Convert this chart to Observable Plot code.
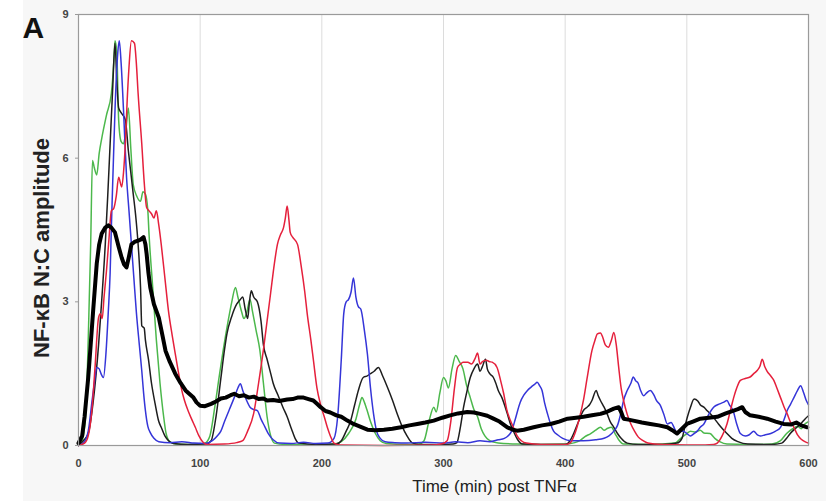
<!DOCTYPE html>
<html>
<head>
<meta charset="utf-8">
<script src="https://cdn.jsdelivr.net/npm/d3@7"></script>
<script src="https://cdn.jsdelivr.net/npm/@observablehq/plot@0.6"></script>
<style>
  html, body { margin: 0; padding: 0; }
  body { background: linear-gradient(to right, #ffffff 23px, #f7f7f7 23px); width: 826px; height: 501px; overflow: hidden; }
</style>
</head>
<body>
<div id="chart"></div>
<script>
// Single-cell NF-κB nuclear:cytoplasmic ratio after TNFα, [minutes, amplitude]
const cellGreen = [[0,0],[3,0.1],[6,0.7],[8,2.2],[10,4.2],[11.5,5.95],[13,5.8],[15,5.65],[17,6.1],[19,6.4],[23,6.9],[27,7.35],[29,8.0],[30,8.45],[31.5,8.2],[33,6.8],[35,6.35],[37,6.3],[39,6.6],[41,7.05],[43,6.2],[45,5.45],[48,5.2],[51,5.1],[53,5.3],[55,5.25],[57,4.9],[58,4.4],[61,3.3],[64,2.2],[67,1.3],[70,0.6],[72,0.25],[75,0.08],[80,0.03],[90,0.02],[100,0.03],[104,0.05],[108,0.2],[112,0.8],[116,1.5],[119,2.0],[123,2.6],[126,3.0],[129,3.3],[131,3.1],[134,2.8],[136,2.65],[138,2.75],[141,3.05],[143,2.8],[146,2.4],[149,2.0],[152,1.3],[155,0.6],[158,0.2],[161,0.05],[170,0.02],[190,0.01],[210,0.03],[216,0.08],[222,0.25],[228,0.55],[231,0.85],[233,1.0],[235,0.9],[237,0.75],[240,0.5],[244,0.25],[248,0.1],[253,0.04],[270,0.02],[280,0.03],[284,0.1],[288,0.5],[292,0.8],[294,0.7],[297,1.1],[300,1.42],[302,1.35],[304,1.2],[307,1.6],[310,1.88],[313,1.75],[316,1.6],[319,1.25],[322,1.0],[325,0.75],[328,0.6],[331,0.35],[334,0.2],[338,0.1],[345,0.05],[360,0.03],[380,0.02],[400,0.03],[408,0.06],[412,0.1],[416,0.18],[421,0.25],[425,0.32],[429,0.38],[432,0.32],[435,0.36],[438,0.38],[441,0.25],[444,0.12],[448,0.03],[470,0.02],[490,0.05],[495,0.15],[500,0.25],[503,0.3],[507,0.28],[511,0.32],[514,0.26],[519,0.25],[523,0.15],[527,0.08],[533,0.03],[550,0.02],[570,0.03],[577,0.1],[582,0.25],[587,0.35],[591,0.4],[594,0.35],[597,0.45],[600,0.5]];

const cellBlack = [[0,0],[4,0.1],[8,0.25],[12,0.9],[16.5,2.1],[19,3.0],[22,4.2],[24,5.2],[26,6.3],[28,7.4],[30,8.4],[31.5,7.6],[33,7.05],[35,6.95],[38.5,6.8],[41,6.15],[43,5.7],[45,5.25],[47,4.8],[49,4.2],[51,3.3],[52,2.5],[54,2.45],[55,2.2],[57.5,1.8],[60,1.3],[63,0.87],[66,0.5],[68,0.38],[71,0.2],[74,0.1],[78,0.04],[90,0.02],[105,0.03],[109,0.1],[113,0.6],[117,1.4],[120,2.0],[122,2.33],[126,2.7],[130,2.95],[133,3.05],[135,3.1],[137,2.85],[139,2.65],[140.5,3.0],[142,3.23],[144,3.1],[147,3.0],[150,2.6],[152,2.1],[155,1.8],[158,1.5],[160,1.3],[164,1.05],[168,0.8],[171.5,0.6],[175,0.35],[178,0.15],[181,0.05],[195,0.02],[212,0.03],[216,0.1],[220,0.3],[223.5,0.5],[227,0.85],[230,1.15],[234,1.42],[237,1.45],[240,1.5],[243,1.55],[246.5,1.63],[250,1.45],[254,1.21],[258,0.95],[262,0.66],[266,0.4],[270,0.2],[274,0.06],[280,0.02],[300,0.02],[308,0.03],[311,0.06],[314,0.4],[316.5,0.8],[319,1.1],[322,1.42],[325,1.6],[328,1.7],[330,1.55],[332,1.65],[334.5,1.8],[336,1.6],[338,1.5],[341,1.42],[343,1.3],[345,1.15],[348,1.0],[352.5,0.66],[355,0.45],[357.5,0.3],[361,0.12],[365,0.03],[380,0.02],[400,0.02],[404,0.1],[407,0.25],[411,0.5],[415,0.73],[418,0.8],[420,0.85],[422,0.94],[425.5,1.15],[427,1.05],[429,0.94],[432,0.8],[434.5,0.66],[437,0.5],[440,0.38],[443,0.25],[446,0.15],[451,0.05],[460,0.02],[480,0.02],[492,0.05],[496,0.15],[498,0.35],[500.5,0.6],[503,0.8],[506,0.97],[509,0.93],[511,0.85],[514,0.8],[517,0.72],[519.5,0.66],[523,0.55],[526,0.45],[530,0.33],[533,0.25],[537,0.15],[542,0.08],[550,0.03],[570,0.02],[578,0.05],[582,0.15],[585,0.25],[589,0.35],[593.5,0.45],[597,0.55],[600,0.62]];

const cellBlue = [[0,0],[4,0.05],[8,0.3],[11,0.9],[13,1.3],[15,1.63],[17,1.6],[18.5,1.5],[20.5,1.42],[22.5,1.9],[24.5,2.8],[26,3.6],[27,4.55],[28.5,5.8],[30,7.0],[32,8.1],[33.5,8.45],[35,8.0],[37,7.0],[39.5,5.6],[41.5,4.9],[43.5,4.2],[45.5,3.5],[47.5,2.8],[50,2.1],[52,1.56],[53.5,1.1],[55,0.73],[57,0.4],[59,0.27],[62,0.15],[66,0.08],[75,0.06],[85,0.08],[95,0.05],[104,0.04],[110,0.1],[114,0.2],[117,0.3],[120,0.5],[124,0.75],[128,1.0],[131,1.2],[133,1.29],[135,1.15],[138,0.95],[141,0.8],[144,0.75],[147,0.73],[150,0.55],[153,0.4],[156,0.25],[160,0.12],[165,0.05],[175,0.04],[185,0.07],[195,0.04],[205,0.05],[210,0.15],[213,0.6],[216,1.8],[218,2.75],[220,3.0],[222,3.05],[224,3.2],[226,3.5],[228,3.1],[230,2.9],[232,2.85],[235,2.4],[237.5,1.9],[240,1.2],[242.5,0.66],[245,0.3],[248,0.15],[252,0.08],[260,0.06],[270,0.05],[285,0.07],[300,0.05],[310,0.08],[320,0.06],[330,0.1],[338,0.08],[345,0.12],[350,0.15],[353,0.2],[356,0.3],[359,0.55],[363,0.9],[366,1.05],[369,1.15],[372,1.22],[375,1.28],[377,1.32],[379,1.25],[381,1.15],[383,0.9],[385.5,0.66],[388,0.45],[390.5,0.3],[394,0.22],[398,0.15],[405,0.1],[415,0.1],[425,0.12],[432,0.15],[436,0.2],[440,0.3],[443,0.42],[446,0.7],[448,0.94],[451,1.15],[454,1.3],[456,1.43],[458,1.35],[460,1.3],[462,1.15],[464.5,1.04],[467,1.1],[470,1.15],[473,1.05],[475,0.94],[478,0.85],[481,0.66],[484,0.45],[487,0.48],[490,0.35],[492,0.25],[495,0.3],[497,0.3],[500,0.25],[503,0.2],[506,0.25],[508.5,0.3],[511,0.38],[514,0.45],[518,0.65],[522,0.8],[527,0.87],[530,0.9],[533,0.94],[535,0.85],[538,0.73],[541,0.45],[544,0.25],[548,0.2],[551,0.22],[555,0.3],[558,0.22],[560.5,0.2],[564,0.22],[569,0.25],[573,0.3],[577,0.38],[580,0.55],[582.5,0.73],[585,0.85],[588,1.0],[591,1.15],[593.5,1.25],[596,1.1],[598,0.95],[600,0.85]];

const cellRed = [[0,0],[5,0.05],[8,0.2],[11,0.73],[13.5,1.6],[16.5,2.67],[18,2.75],[19.5,2.65],[21,3.1],[23,3.65],[25,4.3],[27,4.9],[29,4.95],[31,5.2],[33,5.6],[35.5,5.4],[37,5.7],[38.5,6.3],[40,7.2],[41.5,7.9],[43.5,8.45],[46,8.4],[47.5,8.0],[49,7.35],[52,6.3],[54,5.5],[56,4.97],[58,4.9],[60,4.84],[62,4.75],[64,4.9],[66,4.6],[68,4.2],[71,3.5],[74,2.8],[77,2.3],[79.5,1.92],[82,1.55],[84.5,1.2],[87,0.95],[90,0.73],[93,0.55],[96,0.38],[99,0.2],[102,0.08],[106,0.02],[120,0.03],[130,0.06],[135,0.1],[139,0.3],[144,0.67],[148,1.3],[152,2.0],[155,2.6],[158,3.2],[161,3.8],[163.5,4.2],[166,4.4],[168.5,4.55],[170,4.75],[171.5,5.0],[173,4.7],[174,4.45],[176,4.35],[180,4.2],[183,3.75],[186,3.2],[188,2.75],[191,2.2],[193,1.8],[196,1.2],[199,0.85],[202,0.6],[204.5,0.38],[207,0.2],[210,0.05],[215,0.01],[250,0.0],[290,0.01],[298,0.03],[303,0.1],[306,0.5],[309,1.2],[311.5,1.63],[314,1.7],[316,1.74],[320,1.74],[323,1.7],[326,1.82],[328,1.93],[330,1.7],[332,1.75],[335,1.78],[338,1.75],[340,1.74],[344,1.63],[347,1.35],[349.5,1.08],[352,0.75],[355,0.52],[358,0.35],[360.5,0.2],[364,0.1],[368,0.05],[380,0.02],[400,0.02],[404,0.05],[408,0.25],[412,0.6],[415,0.94],[418,1.4],[422,1.98],[424.5,2.2],[426.5,2.33],[429,2.35],[431,2.25],[433,2.1],[435.5,2.05],[438,2.2],[440,2.36],[442,2.1],[444,1.63],[446,1.2],[448,0.94],[451,0.65],[454,0.45],[457,0.3],[460,0.18],[464,0.1],[468,0.05],[480,0.02],[500,0.01],[515,0.01],[522,0.02],[525,0.05],[529,0.2],[533,0.45],[536,0.75],[538.5,1.0],[541,1.2],[544,1.36],[548,1.4],[552,1.43],[555,1.5],[558,1.57],[560,1.65],[562,1.8],[564,1.65],[566,1.55],[569,1.45],[571.5,1.36],[574,1.2],[577,1.0],[580,0.8],[582.5,0.66],[585,0.5],[588,0.38],[591,0.22],[594,0.13],[597,0.08],[600,0.05]];

// Population mean across all tracked cells
const populationMean = [[0,0.05],[3,0.2],[5,0.6],[8,1.42],[10,2.1],[12,2.8],[15,3.8],[17,4.2],[19,4.42],[22,4.55],[24.5,4.6],[27,4.55],[30,4.45],[33,4.15],[35.5,3.92],[37.5,3.78],[39.5,3.72],[41.5,3.95],[43.5,4.2],[46,4.25],[49,4.28],[51,4.3],[53.5,4.35],[55,4.2],[56,4.0],[57.5,3.6],[59,3.3],[62,2.95],[66,2.67],[69,2.3],[71.5,1.98],[75,1.75],[79.5,1.5],[84,1.3],[88,1.15],[91,1.08],[94.5,1.0],[97,0.9],[100,0.83],[104,0.82],[109,0.87],[113,0.92],[117,0.98],[121,1.0],[125,1.05],[128,1.08],[132,1.03],[136,1.05],[140,1.0],[144,1.02],[148,0.97],[152,0.98],[155,0.94],[160,0.95],[165,0.93],[171.5,0.96],[176,0.97],[180,1.0],[185,1.0],[189,0.97],[193,0.94],[196,0.87],[199,0.8],[203,0.72],[207,0.69],[212,0.63],[216,0.6],[221,0.52],[226,0.45],[231,0.4],[237.5,0.33],[244,0.32],[251,0.33],[258,0.35],[265,0.38],[272,0.42],[278.5,0.45],[285,0.48],[292,0.52],[299,0.58],[305.5,0.63],[312,0.67],[319.5,0.7],[325,0.69],[330,0.66],[336,0.62],[341,0.56],[346,0.5],[352.5,0.38],[357,0.33],[360.5,0.31],[366,0.33],[374,0.38],[381,0.42],[388,0.45],[395,0.5],[402,0.56],[409,0.58],[415,0.6],[422,0.63],[429,0.66],[434,0.7],[440,0.77],[444,0.8],[446,0.7],[448,0.56],[452,0.54],[456,0.52],[463,0.48],[470,0.45],[477,0.42],[484,0.38],[488,0.32],[492,0.25],[496,0.35],[500,0.45],[505,0.5],[511,0.56],[518,0.58],[525,0.6],[532,0.67],[538.5,0.73],[542,0.76],[545.5,0.8],[548,0.7],[552,0.63],[559,0.6],[566,0.56],[573,0.5],[579.5,0.45],[586,0.44],[590,0.48],[594,0.42],[599,0.38]];

const xTicks = [0, 100, 200, 300, 400, 500, 600];
const yTicks = [0, 3, 6, 9];

const panelLabel = "A";
const xLabel = "Time (min) post TNFα";
const yLabel = "NF-κB N:C amplitude";

const cells = [
  {data: cellGreen, color: "#4cb84c"},
  {data: cellBlack, color: "#1e1e1e"},
  {data: cellBlue,  color: "#3535d8"},
  {data: cellRed,   color: "#e5203c"}
];

const chart = Plot.plot({
  width: 826,
  height: 501,
  marginLeft: 78,
  marginRight: 18,
  marginTop: 14,
  marginBottom: 56,
  style: {fontFamily: "'Liberation Sans', Arial, Helvetica, sans-serif", background: "transparent", overflow: "visible"},
  x: {domain: [0, 600]},
  y: {domain: [0, 9]},
  marks: [
    Plot.frame({fill: "#ffffff", stroke: null}),
    Plot.ruleX(xTicks.slice(1, -1), {stroke: "#dcdcdc", strokeWidth: 1}),
    ...cells.map(c => Plot.line(c.data, {
      x: d => d[0], y: d => d[1], curve: "monotone-x",
      stroke: c.color, strokeWidth: 1.5, strokeLinejoin: "round"
    })),
    Plot.line(populationMean, {
      x: d => d[0], y: d => d[1],
      stroke: "#000000", strokeWidth: 4, strokeLinejoin: "round"
    }),
    Plot.frame({stroke: "#9a9a9a", strokeWidth: 1.2}),
    Plot.axisY(yTicks, {
      tickSize: 3, tickPadding: 7, stroke: "#9a9a9a",
      fontSize: 11, fontWeight: "bold", color: "#444", label: null
    }),
    Plot.axisX(xTicks, {
      tickSize: 0, tickPadding: 14,
      fontSize: 11, fontWeight: "bold", color: "#444", label: null
    }),
    Plot.text([yLabel], {
      frameAnchor: "left", textAnchor: "middle", lineAnchor: "middle", rotate: -90, dx: -37, dy: 18,
      fontSize: 22, fontWeight: "bold", fill: "#222"
    }),
    Plot.text([xLabel], {
      frameAnchor: "bottom", textAnchor: "middle", dx: 51, dy: 46,
      fontSize: 17, fill: "#222", lineAnchor: "bottom"
    }),
    Plot.text([panelLabel], {
      frameAnchor: "top-left", dx: -56, dy: 23, textAnchor: "start", lineAnchor: "bottom",
      fontSize: 30, fontWeight: "bold", fill: "#111"
    })
  ]
});

document.getElementById("chart").appendChild(chart);
</script>
</body>
</html>
